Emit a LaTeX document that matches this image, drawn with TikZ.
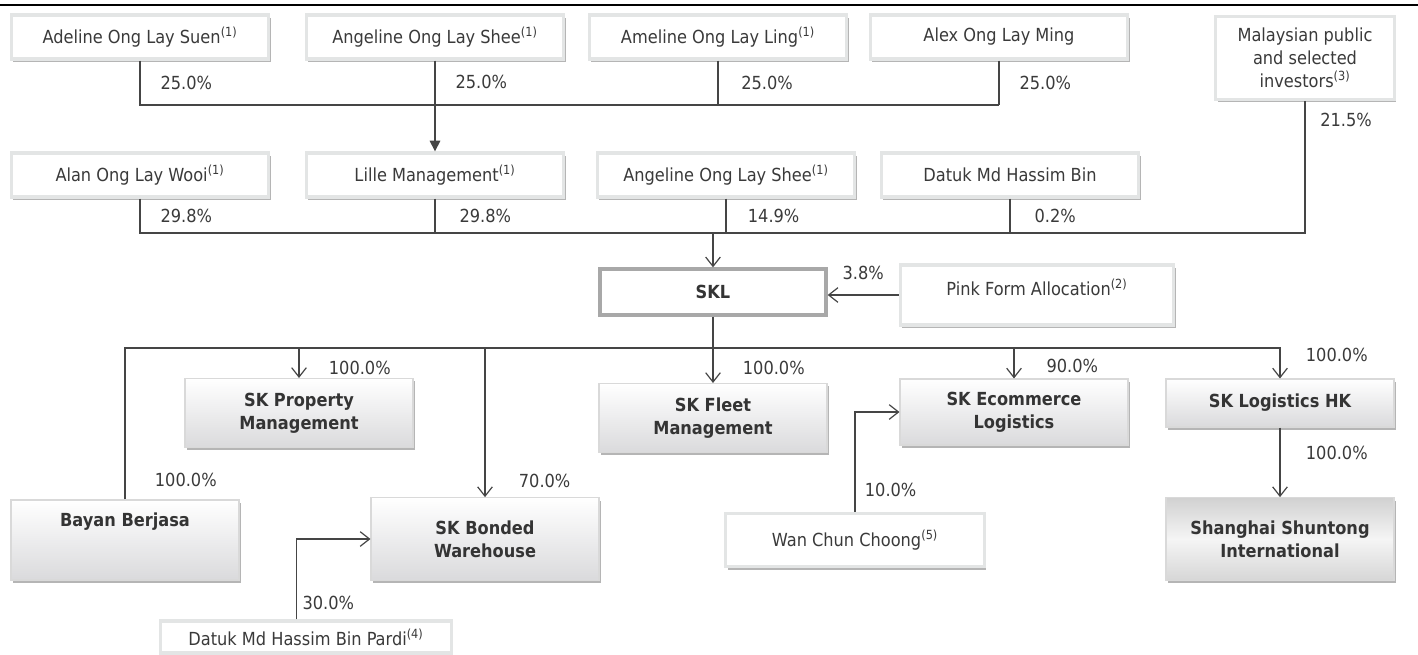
\documentclass[tikz,border=0pt]{standalone}
\usepackage{fontspec}
\setmainfont{DejaVu Sans Condensed}
\usetikzlibrary{arrows.meta,shadows}

\definecolor{txt}{HTML}{3A3A3A}
\definecolor{lin}{HTML}{454545}
\definecolor{frame}{HTML}{E3E5E5}
\definecolor{shade}{HTML}{B5B5B5}
\definecolor{sklframe}{HTML}{A8A8A8}
\definecolor{cobottom}{HTML}{DADADC}
\newcommand{\basefont}{\fontsize{13.5}{17.4}\selectfont}
\newcommand{\fn}[1]{\textsuperscript{(#1)}}

\tikzset{
  holder/.style={draw=frame, line width=2.5pt, fill=white, text=txt, font=\basefont,
    minimum width=193pt, minimum height=33pt,
    drop shadow={shadow xshift=1.5pt, shadow yshift=-2.2pt, fill=shade, opacity=1}},
  company/.style={draw=gray!30, line width=0.8pt, top color=white, bottom color=cobottom,
    text=txt!90!black, font=\basefont\bfseries, align=center,
    minimum width=171pt, minimum height=51.75pt,
    drop shadow={shadow xshift=1.5pt, shadow yshift=-2.2pt, fill=shade, opacity=1}},
  main/.style={draw=sklframe, line width=3pt, fill=white, text=txt!90!black,
    font=\basefont\bfseries, minimum width=169pt, minimum height=34pt},
  pct/.style={anchor=west, xshift=#1, inner sep=0pt, text=txt, font=\basefont},
  pct/.default=15pt,
  conn/.style={draw=lin, line width=0.9pt},
  arr/.style={conn, -{Straight Barb[length=7pt,width=11pt,line width=0.9pt]}}
}

\begin{document}
\begin{tikzpicture}[x=0.75pt,y=-0.75pt]
    \useasboundingbox (0,0) rectangle (1418,654);
    \draw[line width=1.2pt] (0,5) -- (1418,5);

    % owners of Lille Management
    \node[holder] (Ad) at (140,37) {Adeline Ong Lay Suen\fn{1}};
    \node[holder] (An) at (435,37) {Angeline Ong Lay Shee\fn{1}};
    \node[holder] (Am) at (718,37) {Ameline Ong Lay Ling\fn{1}};
    \node[holder] (Ax) at (999,37) {Alex Ong Lay Ming};
    \node[holder, minimum width=134pt, minimum height=62pt, align=center] (Mp) at (1305,58) {Malaysian public\\and selected\\investors\fn{3}};

    % owners of SKL
    \node[holder] (Aw) at (140,175) {Alan Ong Lay Wooi\fn{1}};
    \node[holder] (Li) at (435,175) {Lille Management\fn{1}};
    \node[holder] (An2) at (726,175) {Angeline Ong Lay Shee\fn{1}};
    \node[holder] (Dh) at (1010,175) {Datuk Md Hassim Bin};

    \node[main] (SKL) at (713,292) {SKL};
    \node[holder, minimum width=205pt, minimum height=45pt, text depth=12pt] (Pf) at (1037,295) {Pink Form Allocation\fn{2}};

    % subsidiaries
    \node[company] (Pm) at (299,413) {SK Property\\Management};
    \node[company] (Fm) at (713,418) {SK Fleet\\Management};
    \node[company, minimum height=49.5pt] (Ec) at (1014,412) {SK Ecommerce\\Logistics};
    \node[company, minimum height=36pt] (Lh) at (1280,403) {SK Logistics HK};
    \node[company, minimum height=60pt, text depth=31pt] (Bb) at (125,540) {Bayan Berjasa};
    \node[company, minimum height=62pt] (Bd) at (485,539) {SK Bonded\\Warehouse};
    \node[company, minimum height=62pt, top color=gray!36, bottom color=gray!32, middle color=gray!8] (Sh) at (1280,539) {Shanghai Shuntong\\International};

    \node[holder, minimum width=218pt, minimum height=24pt] (Dp) at (306,637) {Datuk Md Hassim Bin Pardi\fn{4}};
    \node[holder, minimum width=194pt, minimum height=40pt] (Wc) at (855,540) {Wan Chun Choong\fn{5}};

    \coordinate (b1) at (435,105);
    \coordinate (b2) at (713,233);
    \coordinate (b3) at (713,348);

    \draw[conn] (Ad.south) -- node[pct] {25.0\%} (Ad.south |- b1) -- (Ax.south |- b1);
    \draw[conn] (Am.south) -- node[pct=17pt] {25.0\%} (Am.south |- b1);
    \draw[conn] (Ax.south) -- node[pct] {25.0\%} (Ax.south |- b1);
    \draw[conn, -{Triangle[length=8pt,width=8pt]}] (An.south) -- node[pct, pos=0.23] {25.0\%} (Li.north);

    \draw[conn] (Aw.south) -- node[pct] {29.8\%} (Aw.south |- b2) -- (Mp.south |- b2) -- node[pct=11pt, pos=0.86] {21.5\%} (Mp.south);
    \draw[conn] (Li.south) -- node[pct=18pt] {29.8\%} (Li.south |- b2);
    \draw[conn] (An2.south) -- node[pct=16pt] {14.9\%} (An2.south |- b2);
    \draw[conn] (Dh.south) -- node[pct=18pt] {0.2\%} (Dh.south |- b2);
    \draw[arr] (b2) -- (SKL.north);
    \draw[arr] (Pf.west) -- node[pct=0pt, anchor=south, yshift=11pt] {3.8\%} (Pf.west -| SKL.east);

    \draw[conn, line width=1.6pt] (SKL.south) -- (b3);
    \draw[arr] (Bb.north) -- node[pct=22pt, pos=0.13] {100.0\%} (Bb.north |- b3) -- (b3 -| Lh.north) -- node[pct=19pt, pos=0.23] {100.0\%} (Lh.north);
    \draw[arr] (b3 -| Pm.north) -- node[pct=22pt, pos=0.65] {100.0\%} (Pm.north);
    \draw[arr] (b3 -| Bd.north) -- node[pct=25pt, pos=0.89] {70.0\%} (Bd.north);
    \draw[arr] (b3) -- node[pct=22pt, pos=0.56] {100.0\%} (Fm.north);
    \draw[arr] (b3 -| Ec.north) -- node[pct=24pt, pos=0.6] {90.0\%} (Ec.north);
    \draw[arr] (Lh.south) -- node[pct=19pt, pos=0.37] {100.0\%} (Sh.north);

    \draw[arr] ([xshift=-7pt]Dp.north) |- node[pct=4pt, pos=0.1] {30.0\%} (Bd.west);
    \draw[arr] (Wc.north) |- node[pct=7pt, pos=0.11] {10.0\%} (Ec.west);
\end{tikzpicture}
\end{document}
